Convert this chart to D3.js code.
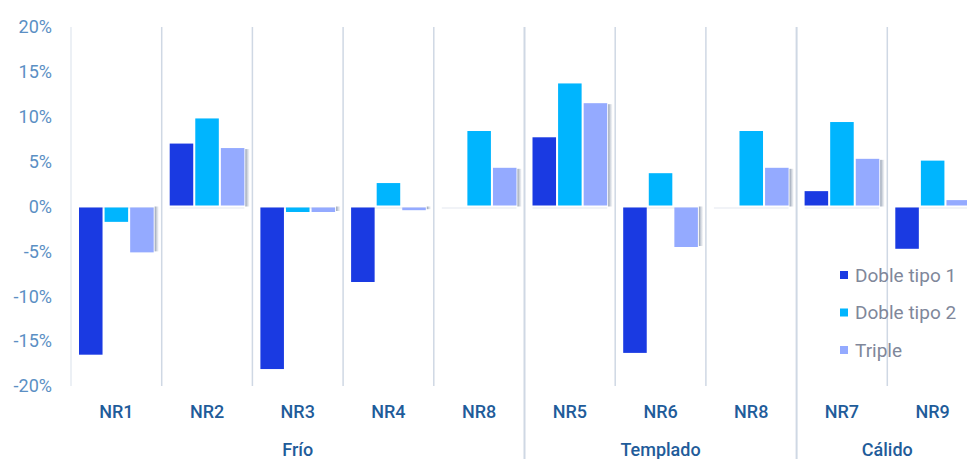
<!DOCTYPE html>
<html>
<head>
<meta charset="utf-8">
<script src="https://cdn.jsdelivr.net/npm/d3@7"></script>
<style>
  html, body { margin: 0; padding: 0; background: #fff; overflow: hidden; }
  svg { display: block; font-family: Roboto, "Noto Sans", sans-serif; }
</style>
</head>
<body>
<svg id="chart" width="967" height="459"></svg>
<script>
// Categories (sub-regions) and their climate groups
const categories = ["NR1", "NR2", "NR3", "NR4", "NR8", "NR5", "NR6", "NR8", "NR7", "NR9"];
const groups = ["Frío", "Frío", "Frío", "Frío", "Frío", "Templado", "Templado", "Templado", "Cálido", "Cálido"];
const groupNames = ["Frío", "Templado", "Cálido"];

// Series values (%)
const seriesNames = ["Doble tipo 1", "Doble tipo 2", "Triple"];
const dobleTipo1 = [-16.4, 6.9, -18.0, -8.3, 0.0, 7.6, -16.2, 0.0, 1.6, -4.6];
const dobleTipo2 = [-1.6, 9.7, -0.5, 2.5, 8.3, 13.6, 3.6, 8.3, 9.3, 5.0];
const triple     = [-5.0, 6.4, -0.5, -0.3, 4.2, 11.4, -4.4, 4.2, 5.2, 0.6];
const seriesColors = ["#1a3ae2", "#00b5fe", "#94aaff"];

// Axis ticks
const yTicks = [-20, -15, -10, -5, 0, 5, 10, 15, 20];

const seriesValues = [dobleTipo1, dobleTipo2, triple];
const svg = d3.select("#chart");

const plotTop = 27, plotBottom = 386;
const y = d3.scaleLinear().domain([-20, 20]).range([plotBottom, plotTop]);

const keys = categories.map((c, i) => i);
const x = d3.scaleBand().domain(keys).range([71, 978]).paddingInner(0).paddingOuter(0);
const xs = d3.scaleBand().domain(seriesNames).range([8, x.bandwidth() - 8]).paddingInner(0.08);

const defs = svg.append("defs");
const grad = defs.append("linearGradient").attr("id", "shade").attr("x1", 0).attr("x2", 1);
grad.append("stop").attr("offset", 0).attr("stop-color", "#7f8da3").attr("stop-opacity", 0.85);
grad.append("stop").attr("offset", 1).attr("stop-color", "#b9c2d0").attr("stop-opacity", 0.15);
const blur = defs.append("filter").attr("id", "soft").attr("x", "-50%").attr("width", "200%");
blur.append("feGaussianBlur").attr("stdDeviation", 0.6);

// Category separators
svg.append("g").selectAll("line")
  .data(keys)
  .join("line")
  .attr("x1", d => x(d)).attr("x2", d => x(d))
  .attr("y1", plotTop)
  .attr("y2", d => (d > 0 && groups[d] !== groups[d - 1]) ? 459 : plotBottom)
  .attr("stroke", d => d === 0 ? "#e6ebf2" : "#cfd8e4")
  .attr("stroke-width", d => (d > 0 && groups[d] !== groups[d - 1]) ? 2 : 1.5);

// Y tick labels
svg.append("g").selectAll("text")
  .data(yTicks)
  .join("text")
  .attr("x", 52)
  .attr("y", d => y(d))
  .attr("dy", "0.35em")
  .attr("text-anchor", "end")
  .attr("font-size", 18)
  .attr("fill", "#5b8fc4")
  .text(d => d + "%");

// Bars
const barData = [];
keys.forEach(k => seriesNames.forEach((s, si) => {
  barData.push({ k, s, si, v: seriesValues[si][k] });
}));

const bars = svg.append("g");

// faint shadow along the zero line under each category
bars.selectAll("line.base")
  .data(keys)
  .join("line")
  .attr("class", "base")
  .attr("x1", d => x(d) + xs(seriesNames[0]))
  .attr("x2", d => x(d) + xs(seriesNames[2]) + xs.bandwidth())
  .attr("y1", y(0) + 1.5).attr("y2", y(0) + 1.5)
  .attr("stroke", "#e3e8ef")
  .attr("stroke-width", 1.2);

// soft shading beside the last bar of each category
bars.selectAll("rect.shade")
  .data(barData.filter(d => d.si === 2))
  .join("rect")
  .attr("class", "shade")
  .attr("x", d => x(d.k) + xs(d.s) + xs.bandwidth() + 1)
  .attr("width", 4)
  .attr("y", d => Math.min(y(d.v), y(0)))
  .attr("height", d => Math.max(Math.abs(y(d.v) - y(0)), 1))
  .attr("fill", "url(#shade)")
  .attr("filter", "url(#soft)");

bars.selectAll("rect.bar")
  .data(barData.filter(d => d.v !== 0))
  .join("rect")
  .attr("class", "bar")
  .attr("x", d => x(d.k) + xs(d.s))
  .attr("width", xs.bandwidth())
  .attr("y", d => d.v >= 0 ? y(d.v) - 1 : y(0) + 1)
  .attr("height", d => Math.max(Math.abs(y(d.v) - y(0)), 0.8))
  .attr("fill", d => seriesColors[d.si]);

// Category labels
svg.append("g").selectAll("text")
  .data(keys)
  .join("text")
  .attr("x", d => x(d) + x.bandwidth() / 2)
  .attr("y", 412)
  .attr("dy", "0.35em")
  .attr("text-anchor", "middle")
  .attr("font-size", 18)
  .attr("font-weight", 500)
  .attr("fill", "#1f5c9a")
  .text(d => categories[d]);

// Group labels
const groupSpans = groupNames.map(g => {
  const idx = keys.filter(k => groups[k] === g);
  return { g, x0: x(idx[0]), x1: x(idx[idx.length - 1]) + x.bandwidth() };
});
svg.append("g").selectAll("text")
  .data(groupSpans)
  .join("text")
  .attr("x", d => (d.x0 + d.x1) / 2)
  .attr("y", 450)
  .attr("dy", "0.35em")
  .attr("text-anchor", "middle")
  .attr("font-size", 18)
  .attr("font-weight", 500)
  .attr("fill", "#1f5c9a")
  .text(d => d.g);

// Legend
const legend = svg.append("g").attr("transform", "translate(840,275)");
const items = legend.selectAll("g")
  .data(seriesNames)
  .join("g")
  .attr("transform", (d, i) => `translate(0,${i * 37.5})`);
items.append("rect")
  .attr("x", 0).attr("y", -4)
  .attr("width", 8).attr("height", 8)
  .attr("fill", (d, i) => seriesColors[i]);
items.append("text")
  .attr("x", 15).attr("y", 0)
  .attr("dy", "0.35em")
  .attr("font-size", 19)
  .attr("fill", "#80879a")
  .text(d => d);
</script>
</body>
</html>
